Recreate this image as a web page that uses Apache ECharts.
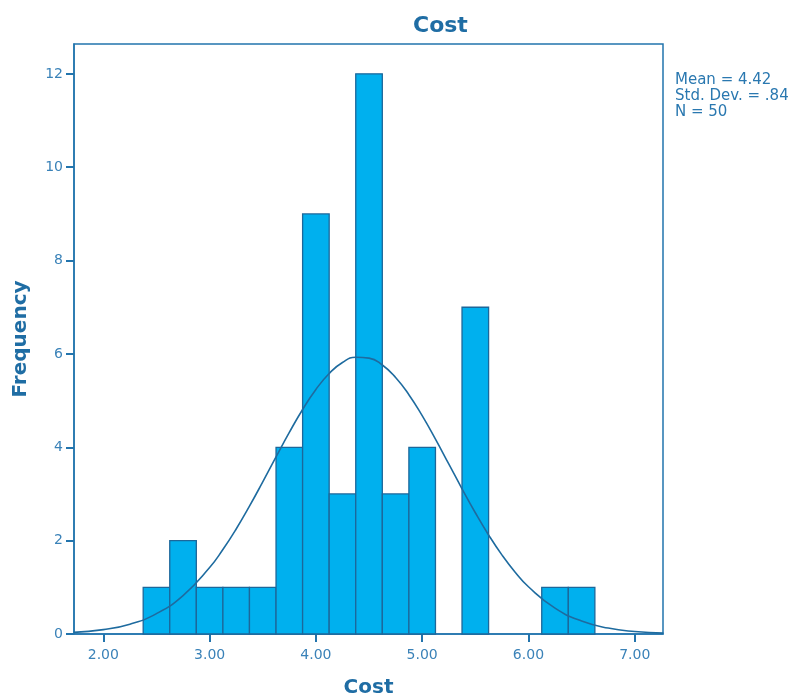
<!DOCTYPE html>
<html>
<head>
<meta charset="utf-8">
<script src="https://cdn.jsdelivr.net/npm/echarts@6/dist/echarts.min.js"></script>
<style>
  html, body { margin: 0; padding: 0; background: #fff; }
  #chart { width: 797px; height: 698px; }
</style>
</head>
<body>
<div id="chart"></div>
<script>
// histogram bins (left edge, right edge) and counts
var binLow = [2.375, 2.625, 2.875, 3.125, 3.375, 3.625, 3.875, 4.125, 4.375,
  4.625, 4.875, 5.125, 5.375, 5.625, 5.875, 6.125, 6.375];
var binHigh = [2.625, 2.875, 3.125, 3.375, 3.625, 3.875, 4.125, 4.375, 4.625,
  4.875, 5.125, 5.375, 5.625, 5.875, 6.125, 6.375, 6.625];
var counts = [1, 2, 1, 1, 1, 4, 9, 3, 12, 3, 4, 0, 7, 0, 0, 1, 1];

// normal curve
var curveX = [1.72, 2.0, 2.25, 2.5, 2.75, 3.0, 3.125, 3.25, 3.375, 3.5, 3.625, 3.75,
  3.875, 4.0, 4.125, 4.25, 4.375, 4.5, 4.625, 4.75, 4.875, 5.0, 5.125, 5.25,
  5.375, 5.5, 5.625, 5.75, 5.875, 6.0, 6.25, 6.5, 6.75, 7.0, 7.27];
var curveY = [0.035, 0.094, 0.211, 0.436, 0.823, 1.423, 1.81, 2.25, 2.739, 3.259,
  3.794, 4.319, 4.81, 5.239, 5.582, 5.817, 5.928, 5.91, 5.763, 5.496, 5.127,
  4.678, 4.175, 3.644, 3.111, 2.598, 2.122, 1.695, 1.325, 1.012, 0.553, 0.277,
  0.127, 0.053, 0.018];

var xTicks = [2, 3, 4, 5, 6, 7];
var yTicks = [0, 2, 4, 6, 8, 10, 12];
var statLines = ['Mean = 4.42', 'Std. Dev. = .84', 'N = 50'];

var blue = '#2274ad';
var font = 'DejaVu Sans';

var bins = counts.map(function (c, i) { return [binLow[i], binHigh[i], c]; });
var curve = curveX.map(function (x, i) { return [x, curveY[i]]; });

var chart = echarts.init(document.getElementById('chart'));
chart.setOption({
  backgroundColor: '#fff',
  animation: false,
  title: {
    text: 'Cost',
    left: 408,
    top: 10,
    textStyle: { color: '#1f6da4', fontFamily: font, fontSize: 22, fontWeight: 'bold' }
  },
  grid: {
    left: 74, top: 44, width: 589, height: 590,
    outerBoundsMode: 'none',
    containLabel: false,
    show: true, borderColor: blue, borderWidth: 1.5, backgroundColor: '#fff'
  },
  xAxis: {
    type: 'value',
    min: 1.724,
    max: 7.266,
    name: 'Cost',
    nameLocation: 'middle',
    nameGap: 44,
    nameTextStyle: { color: '#1f6da4', fontFamily: font, fontSize: 20, fontWeight: 'bold' },
    axisLine: { show: true, lineStyle: { color: blue, width: 1.5 } },
    axisTick: { show: true, length: 8, customValues: xTicks, lineStyle: { color: blue, width: 2 } },
    axisLabel: {
      customValues: xTicks,
      color: '#3a82b8', fontFamily: font, fontSize: 14, margin: 14,
      formatter: function (v) { return v.toFixed(2); }
    },
    splitLine: { show: false }
  },
  yAxis: {
    type: 'value',
    min: 0,
    max: 12.64,
    name: 'Frequency',
    nameLocation: 'middle',
    nameGap: 43,
    nameTextStyle: { color: '#1f6da4', fontFamily: font, fontSize: 20, fontWeight: 'bold' },
    axisLine: { show: true, lineStyle: { color: blue, width: 1.5 } },
    axisTick: { show: true, length: 8, customValues: yTicks, lineStyle: { color: blue, width: 2 } },
    axisLabel: { customValues: yTicks, color: '#3a82b8', fontFamily: font, fontSize: 14, margin: 11 },
    splitLine: { show: false }
  },
  graphic: [{
    type: 'text',
    left: 675,
    top: 72,
    style: {
      text: statLines.join('\n'),
      fill: '#2a78b0',
      font: '15px "DejaVu Sans"',
      lineHeight: 16
    }
  }],
  series: [
    {
      type: 'custom',
      data: bins,
      encode: { x: [0, 1], y: 2 },
      renderItem: function (params, api) {
        if (api.value(2) === 0) return null;
        var p0 = api.coord([api.value(0), api.value(2)]);
        var p1 = api.coord([api.value(1), 0]);
        return {
          type: 'rect',
          shape: { x: p0[0], y: p0[1], width: p1[0] - p0[0], height: p1[1] - p0[1] },
          style: { fill: '#00b0ee', stroke: '#1c679a', lineWidth: 1.3 }
        };
      },
      z: 2
    },
    {
      type: 'line',
      data: curve,
      smooth: true,
      symbol: 'none',
      lineStyle: { color: '#1e6b9f', width: 1.6 },
      z: 3
    }
  ]
});
</script>
</body>
</html>
